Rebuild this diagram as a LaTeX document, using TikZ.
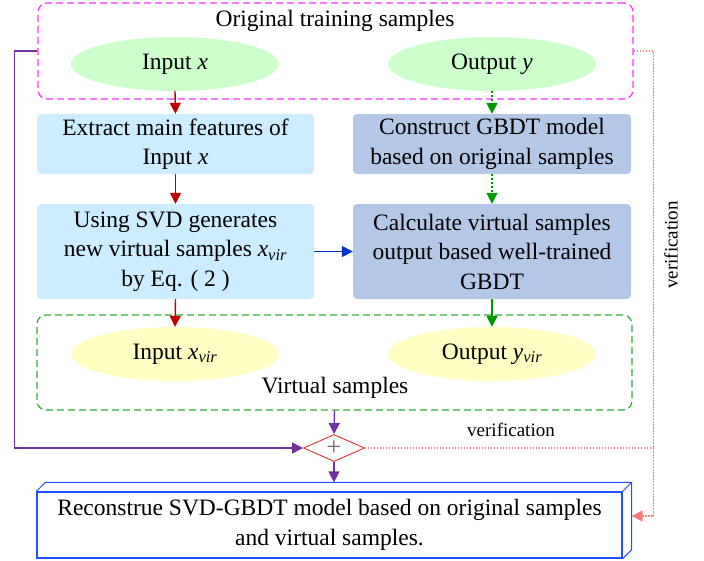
\documentclass[tikz,border=0pt]{standalone}
\usepackage{fontspec}
\setmainfont{Liberation Serif}
\usetikzlibrary{arrows.meta,shapes.geometric}
\definecolor{grpmagenta}{HTML}{FF33FF}
\definecolor{grpgreen}{HTML}{33AA33}
\definecolor{ellgreen}{HTML}{CCFFCC}
\definecolor{ellyellow}{HTML}{FFFFC4}
\definecolor{boxlight}{HTML}{CCECFF}
\definecolor{boxdark}{HTML}{B4C7E7}
\definecolor{arrred}{HTML}{C00000}
\definecolor{arrgreen}{HTML}{009900}
\definecolor{arrblue}{HTML}{0033CC}
\definecolor{arrpurple}{HTML}{7030A0}
\definecolor{verpink}{HTML}{FF7C80}
\definecolor{diared}{HTML}{E03030}
\definecolor{cubeblue}{HTML}{1F4FFF}
\tikzset{
  groupbox/.style={draw, line width=1.2pt, dash pattern=on 7pt off 4pt,
    rounded corners=9pt, inner sep=0pt},
  procbox/.style={rounded corners=4pt, align=center, inner sep=0pt,
    minimum width=277pt},
  dataell/.style={ellipse, inner sep=0pt, minimum width=208pt, minimum height=54pt},
  arrowtip/.style={-{Triangle[length=11pt,width=11pt]}},
  flowarrow/.style={arrowtip, line width=1.4pt},
  dottedgreen/.style={flowarrow, draw=arrgreen, dash pattern=on 2pt off 2pt},
  verline/.style={draw=verpink, line width=1.3pt, dash pattern=on 1.5pt off 1.5pt},
  smalltext/.style={font=\fontsize{19}{22}\selectfont}
}
\begin{document}
\begin{tikzpicture}[x=1pt,y=-1pt,font=\fontsize{23.5}{29.5}\selectfont]
\useasboundingbox (0,0) rectangle (704,560);

% original samples group
\node[groupbox, draw=grpmagenta, minimum width=595pt, minimum height=96pt] (orig) at (335.5,51) {};
\node (origlabel) at (335,21) {Original training samples};
\node[dataell, fill=ellgreen] (inx) at (175,64) {Input \textit{x}};
\node[dataell, fill=ellgreen] (outy) at (492,64) {Output \textit{y}};

% processing boxes
\node[procbox, fill=boxlight, minimum height=60pt] (extract) at (175.5,144)
  {Extract main features of\\Input \textit{x}};
\node[procbox, fill=boxdark, minimum height=60pt, minimum width=278pt] (construct) at (492,144)
  {Construct GBDT model\\based on original samples};
\node[procbox, fill=boxlight, minimum height=95pt] (svd) at (175.5,251.5)
  {Using SVD generates\\new virtual samples \textit{x}\textsubscript{\textit{vir}}\\by Eq. ( 2 )};
\node[procbox, fill=boxdark, minimum height=95pt, minimum width=278pt] (calc) at (492,251.5)
  {Calculate virtual samples\\output based well-trained\\GBDT};

% virtual samples group
\node[groupbox, draw=grpgreen, minimum width=595pt, minimum height=95pt] (virt) at (334.5,362.5) {};
\node[dataell, fill=ellyellow] (inxv) at (175,354) {Input \textit{x}\textsubscript{\textit{vir}}};
\node[dataell, fill=ellyellow] (outyv) at (492,354) {Output \textit{y}\textsubscript{\textit{vir}}};
\node (virtlabel) at (335,388) {Virtual samples};

% merge
\node[diamond, draw=diared, line width=0.9pt, inner sep=0pt, minimum width=61pt,
  minimum height=27pt, text=gray!80!black, font=\fontsize{26}{26}\selectfont] (plus) at (334,448) {};
\node[text=gray!80!black, font=\fontsize{26}{26}\selectfont, inner sep=0pt] (plussign) at (plus.center) {+};

% final model as a cuboid
\node[draw=cubeblue, line width=1.3pt, align=center, minimum width=585pt,
  minimum height=66pt, inner sep=0pt] (final) at (329.5,525)
  {Reconstrue SVD-GBDT model based on original samples\\and virtual samples.};
\coordinate (btl) at ([shift={(9,-9)}]final.north west);
\coordinate (btr) at ([shift={(9,-9)}]final.north east);
\coordinate (bbr) at ([shift={(9,-9)}]final.south east);
\coordinate (bmr) at ([shift={(9,-9)}]final.east);
\draw[cubeblue, line width=1pt] (final.north west) -- (btl) -- (btr) -- (bbr) -- (final.south east);
\draw[cubeblue, line width=1pt] (final.north east) -- (btr);

% arrows
\draw[flowarrow, arrred] (inx.south) -- (extract.north);
\draw[flowarrow, arrred] (extract.south) -- (svd.north);
\draw[flowarrow, arrred] (svd.south) -- (inxv.north);
\draw[dottedgreen] (outy.south) -- (construct.north);
\draw[dottedgreen] (construct.south) -- (calc.north);
\draw[flowarrow, arrgreen] (calc.south) -- (outyv.north);
\draw[flowarrow, arrblue] (svd.east) -- (calc.west);
\draw[flowarrow, arrpurple] (virt.south) -- (plus.north);
\draw[flowarrow, arrpurple] (plus.south) -- (plus.south |- btl);
\draw[flowarrow, arrpurple, line width=1.2pt] (orig.west) -- ++(-23,0) |- (plus.west);

% verification paths
\coordinate (vr) at ([xshift=20]orig.east);
\draw[verline, -{Triangle[length=11pt,width=11pt]}] (orig.east) -- (vr) |- (bmr);
\draw[verline] (plus.east) -- (plus.east -| vr);
\node[smalltext, rotate=90] (ver1) at (671,245) {verification};
\node[smalltext] (ver2) at (511,430) {verification};
\end{tikzpicture}
\end{document}
